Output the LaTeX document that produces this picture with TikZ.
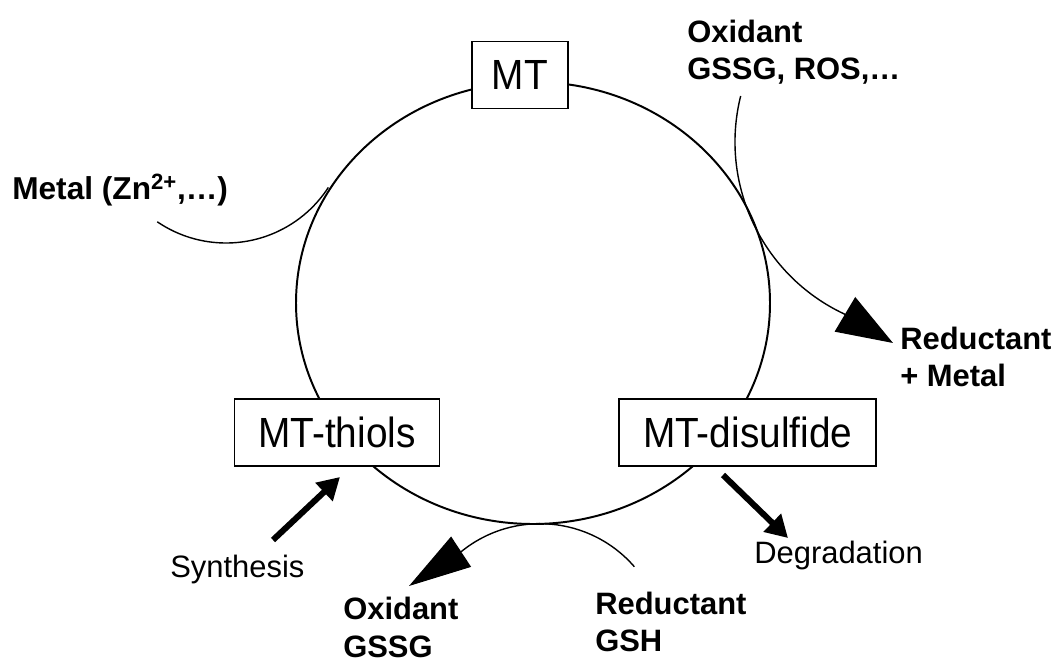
\documentclass[tikz,border=0pt]{standalone}
\usepackage{fontspec}
\setmainfont{Liberation Sans}
\newfontfamily\mtfont[FakeStretch=0.92]{Liberation Sans}
\usetikzlibrary{arrows.meta}
\tikzset{
  mtbox/.style={draw,line width=1.1pt,fill=white,minimum height=1.675cm,inner xsep=0.6cm,font=\mtfont\fontsize{30}{36}\selectfont},
  boldlbl/.style={inner sep=0pt,anchor=north west,align=left,font=\bfseries\fontsize{22}{26.5}\selectfont},
  thinlbl/.style={inner sep=0pt,anchor=base west,font=\fontsize{22}{27}\selectfont},
  bigtip/.style 2 args={-{Triangle[length=#1,width=#2]},line width=1pt},
  fatarrow/.style={-{Triangle[length=0.55cm,width=0.6cm]},line width=4.3pt}
}
\begin{document}
\begin{tikzpicture}
                      \useasboundingbox (0,0) rectangle (26.475,16.65);
                      \draw[line width=1.4pt] (13.325,9.075) ellipse [x radius=5.925,y radius=5.525];
                      \node[mtbox,inner xsep=0.5cm](mt)at(13.0,14.775){MT};
                      \node[mtbox](thiols)at(8.425,5.84){MT-thiols};
                      \node[mtbox](disulfide)at(18.69,5.84){MT-disulfide};
                      \node[boldlbl](oxtop)at(17.175,16.15){Oxidant\\GSSG, ROS,…};
                      \node[boldlbl](redtop)at(22.5,8.475){Reductant\\+ Metal};
                      \node[thinlbl,font=\bfseries\fontsize{22.5}{27}\selectfont](metal)at(0.3,11.65){Metal (Zn\textsuperscript{2+},…)};
                      \node[thinlbl](syn)at(4.25,2.225){Synthesis};
                      \node[thinlbl](deg)at(18.85,2.575){Degradation};
                      \node[boldlbl](oxbot)at(8.575,1.72){Oxidant\\GSSG};
                      \node[boldlbl](redbot)at(14.875,1.86){Reductant\\GSH};
                      \coordinate(zn start)at(3.932,11.105);
                      \coordinate(ox start)at(18.516,14.249);
                      \coordinate(ox tip)at(22.325,8.075);
                      \coordinate(red start)at(15.858,2.483);
                      \coordinate(red tip)at(10.225,2.0);
                      \coordinate(syn tail)at(6.825,3.15);
                      \coordinate(syn tip)at(8.5,4.725);
                      \coordinate(deg tail)at(18.075,4.775);
                      \coordinate(deg tip)at(19.7,3.2);
                      \draw[line width=1pt](zn start)arc[start angle=235.7,end angle=327,radius=3.05];
                      \draw[bigtip={1.4cm}{1cm}](ox start)arc[start angle=166,end angle=245,radius=4.75]--(ox tip);
                      \draw[bigtip={1.56cm}{0.9cm}](red start)arc[start angle=41,end angle=129,radius=3.125]--(red tip);
                      \draw[fatarrow](syn tail)--(syn tip);
                      \draw[fatarrow](deg tail)--(deg tip);
                  \end{tikzpicture}
\end{document}
